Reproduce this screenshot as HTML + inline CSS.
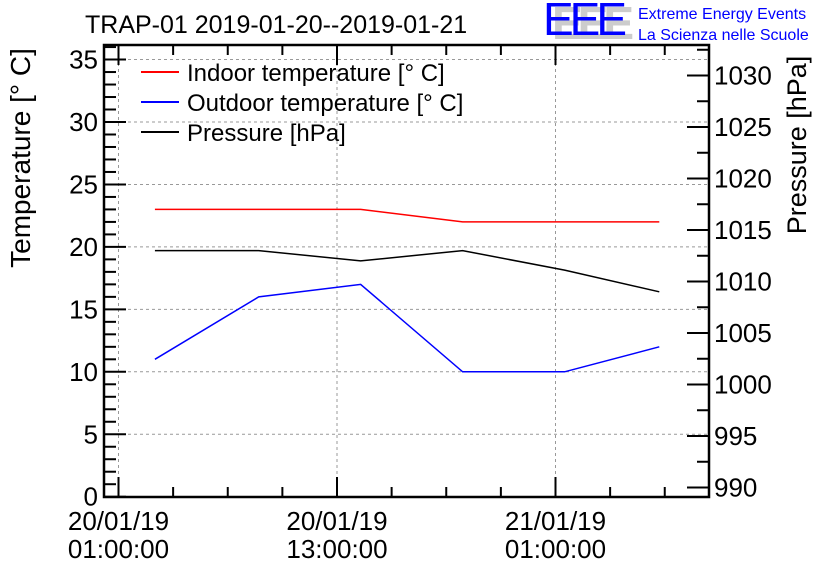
<!DOCTYPE html>
<html><head><meta charset="utf-8"><style>
body{margin:0;background:#fff;}
svg{display:block;font-family:"Liberation Sans",sans-serif;}
</style></head><body>
<svg id="c" width="836" height="572"></svg>
<script>
const hours=[2.0,7.7,13.3,18.9,24.5,29.7];
const indoorTemp=[23,23,23,22,22,22];
const outdoorTemp=[11,16,17,10,10,12];
const pressure=[1013.0,1013.0,1012.0,1013.0,1011.1,1009.0];
const tempTicks=[0,5,10,15,20,25,30,35];
const presTicks=[990,995,1000,1005,1010,1015,1020,1025,1030];
const timeTicks=[0,12,24];
const timeLabels=[["20/01/19","01:00:00"],["20/01/19","13:00:00"],["21/01/19","01:00:00"]];

const L=104,R=709,T=45,B=497;
const X=h=>118.5+h*218.5/12;
const YT=v=>496.7-v*12.49;
const YP=p=>487.5-(p-990)*10.3;
const svg=document.getElementById('c');
const NS='http://www.w3.org/2000/svg';
function el(t,a,p){const e=document.createElementNS(NS,t);for(const k in a)e.setAttribute(k,a[k]);(p||svg).appendChild(e);return e;}

const grid=el('g',{stroke:'#999','stroke-dasharray':'3,3','stroke-width':1});


timeTicks.forEach(h=>el('line',{x1:X(h),x2:X(h),y1:T,y2:B},grid));
tempTicks.forEach(v=>el('line',{x1:L,x2:R,y1:YT(v),y2:YT(v)},grid));

const tk=el('g',{stroke:'#000','stroke-width':2});


for(let v=0;v<=36;v++){const y=YT(v);if(y<T)break;const len=v%5==0?22:12;el('line',{x1:L,x2:L+len,y1:y,y2:y},tk);}
for(let p=990;p<=1033;p+=2.5){const y=YP(p);if(y<T)break;const len=p%5==0?22:12;el('line',{x1:R,x2:R-len,y1:y,y2:y},tk);}
for(let h=-6;h<=33;h+=3){const x=X(h);if(x<L||x>R)continue;const len=h%12==0?20:10;el('line',{x1:x,x2:x,y1:B,y2:B-len},tk);el('line',{x1:x,x2:x,y1:T,y2:T+len},tk);}

const fr=el('rect',{x:L,y:T,width:R-L,height:B-T,fill:'none',stroke:'#000','stroke-width':2.5});



tempTicks.forEach(v=>{const t=el('text',{x:L-6,y:YT(v)+9,'text-anchor':'end','font-size':26});t.textContent=v;

});
presTicks.forEach(p=>{const t=el('text',{x:R+5,y:YP(p)+9,'font-size':26});t.textContent=p;

});
timeTicks.forEach((h,i)=>{[0,1].forEach(j=>{const t=el('text',{x:X(h),y:530+j*28,'text-anchor':'middle','font-size':26});t.textContent=timeLabels[i][j];

});});

let t=el('text',{transform:'translate(30,158) rotate(-90)','text-anchor':'middle','font-size':28});t.textContent='Temperature [° C]';


t=el('text',{transform:'translate(806,145) rotate(-90)','text-anchor':'middle','font-size':27});t.textContent='Pressure [hPa]';


t=el('text',{x:85,y:33,'font-size':25});t.textContent='TRAP-01 2019-01-20--2019-01-21';



const lg=el('g',{});


t=el('text',{x:552,y:39,'font-size':46,fill:'#ccc','font-weight':'bold','textLength':82},lg);t.textContent='EEE';
t=el('text',{x:543,y:35,'font-size':46,fill:'#00f','textLength':84},lg);t.textContent='EEE';
t=el('text',{x:638,y:19,'font-size':16,fill:'#00f'},lg);t.textContent='Extreme Energy Events';
t=el('text',{x:638,y:40,'font-size':16,fill:'#00f'},lg);t.textContent='La Scienza nelle Scuole';

function line(vals,yf,col,name){const p=el('polyline',{points:vals.map((v,i)=>X(hours[i])+','+yf(v)).join(' '),fill:'none',stroke:col,'stroke-width':1.5});

}
line(indoorTemp,YT,'#f00','indoor-temperature-line');
line(outdoorTemp,YT,'#00f','outdoor-temperature-line');
line(pressure,YP,'#000','pressure-line');

const leg=[['Indoor temperature [° C]','#f00'],['Outdoor temperature [° C]','#00f'],['Pressure [hPa]','#000']];
leg.forEach((d,i)=>{const g=el('g',{});


const y=72+i*30;el('line',{x1:141,x2:179,y1:y,y2:y,stroke:d[1],'stroke-width':2},g);
const tt=el('text',{x:187,y:y+9,'font-size':24},g);tt.textContent=d[0];});
</script>
</body></html>
